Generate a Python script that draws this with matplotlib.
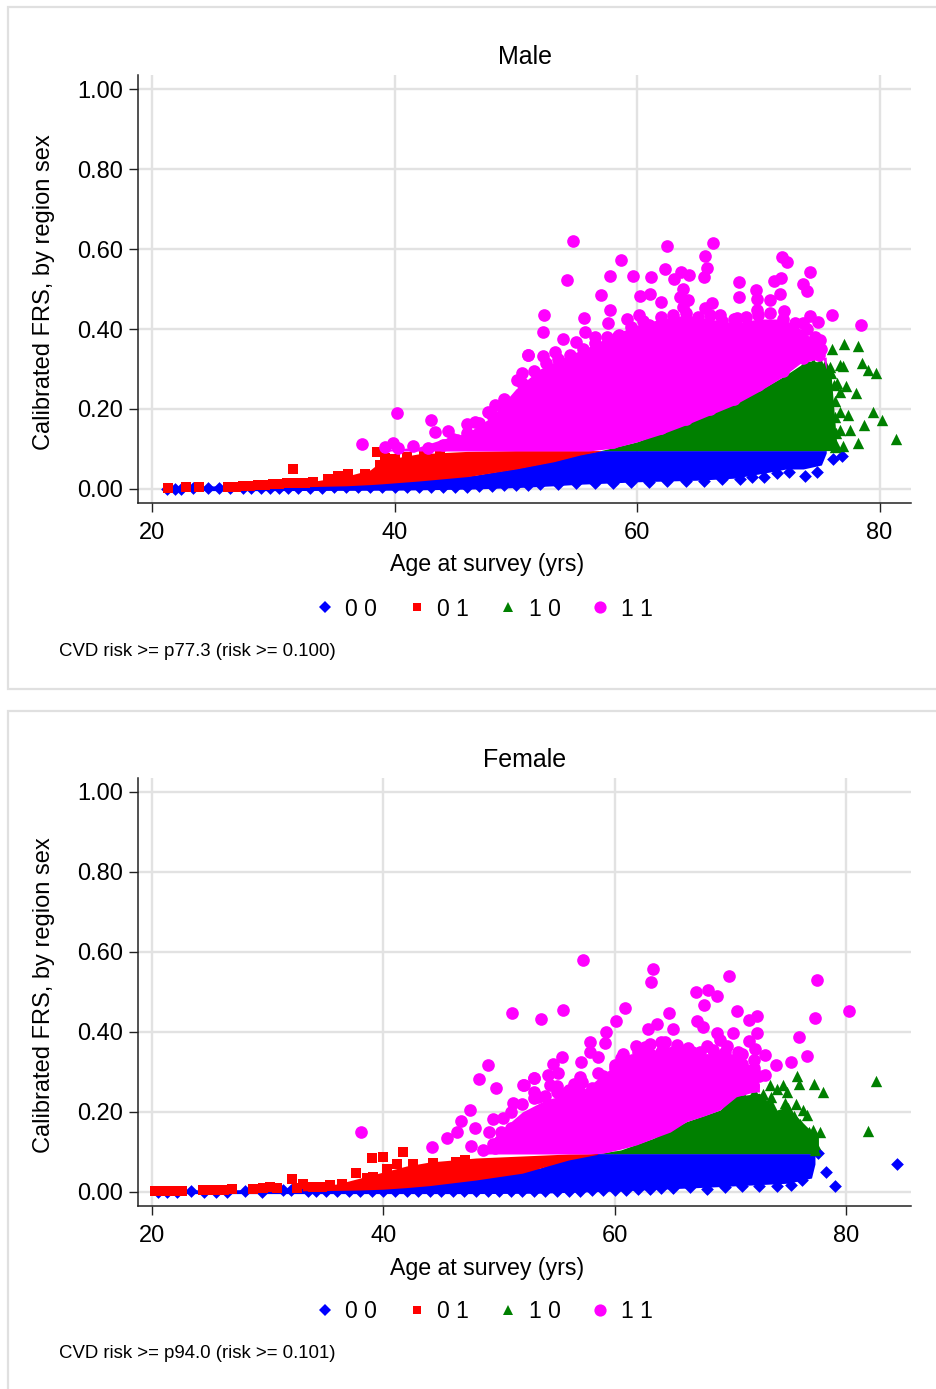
import matplotlib
matplotlib.use("Agg")
import matplotlib.pyplot as plt
from matplotlib.lines import Line2D
from matplotlib.patches import Rectangle

plt.rcParams['font.family'] = ['Liberation Sans', 'DejaVu Sans']

W, H = 936, 1389
C_B, C_R, C_G, C_M = '#0000ff', '#ff0000', '#008000', '#ff00ff'
GRID = '#e2e2e2'

# ---------- shared labels ----------
y_ticks = [0.0, 0.2, 0.4, 0.6, 0.8, 1.0]
y_tick_labels = ['0.00', '0.20', '0.40', '0.60', '0.80', '1.00']
x_ticks = [20, 40, 60, 80]
legend_labels = ['0 0', '0 1', '1 0', '1 1']

# ---------- MALE: envelopes of the dense mass ----------
m_blue_age = [21, 26, 30, 40, 46.5, 50.4, 53.1, 55.3, 57, 60, 65, 68, 70.5, 72.3, 73.7, 75.2, 75.6]
m_blue_up = [0.006, 0.008, 0.012, 0.020, 0.034, 0.054, 0.07, 0.087, 0.096, 0.096, 0.096, 0.096, 0.096, 0.096, 0.096, 0.096, 0.096]
m_blue_lo = [-0.004, -0.004, -0.004, -0.003, 0.0, 0.004, 0.008, 0.012, 0.014, 0.018, 0.022, 0.027, 0.04, 0.05, 0.05, 0.06, 0.09]

m_red_age = [25.8, 30, 33, 36, 38, 39, 42, 46, 50, 53.1, 55.3, 57]
m_red_up = [0.006, 0.012, 0.018, 0.032, 0.048, 0.072, 0.088, 0.094, 0.096, 0.096, 0.096, 0.096]
m_red_lo = [0.001, 0.004, 0.006, 0.008, 0.011, 0.013, 0.02, 0.031, 0.05, 0.068, 0.085, 0.095]

m_green_age = [57, 60, 64, 68, 70, 72, 74, 75, 76, 76.5]
m_green_up = [0.096, 0.118, 0.165, 0.215, 0.245, 0.28, 0.32, 0.318, 0.285, 0.10]
m_green_lo = [0.096, 0.096, 0.096, 0.096, 0.096, 0.096, 0.096, 0.096, 0.096, 0.096]

m_mag_age = [39, 42, 44, 46, 48, 50, 52, 54, 56, 58, 60, 62, 64, 66, 68, 70, 72, 73.5, 75, 75.6]
m_mag_up = [0.097, 0.105, 0.125, 0.14, 0.18, 0.25, 0.30, 0.33, 0.355, 0.385, 0.41, 0.425, 0.435, 0.425, 0.415, 0.425, 0.425, 0.40, 0.36, 0.30]
m_mag_lo = [0.095, 0.095, 0.095, 0.095, 0.095, 0.095, 0.095, 0.095, 0.095, 0.102, 0.118, 0.137, 0.16, 0.185, 0.21, 0.243, 0.28, 0.315, 0.325, 0.33]

# ---------- MALE: individual points ----------
m_b_x = [21.2, 21.9, 22.4, 23.4, 24.6, 25.5, 26.4, 27.5, 28.2, 29, 29.7, 30.5, 31.2, 32, 33, 34, 35, 36, 37, 38, 39, 40, 41, 42, 43, 44, 45, 46, 47, 48, 49, 50, 51, 52, 53.5, 55, 56.5, 58, 59.5, 61, 62.5, 64, 65.5, 67, 68.5, 69.5, 70.5, 71.5, 72.5, 73.84, 74.8, 76.12, 76.86]
m_b_y = [0.001, 0.001, 0.001, 0.002, 0.002, 0.002, 0.002, 0.002, 0.002, 0.003, 0.002, 0.002, 0.003, 0.003, 0.003, 0.003, 0.004, 0.004, 0.004, 0.004, 0.004, 0.004, 0.005, 0.005, 0.005, 0.005, 0.006, 0.006, 0.007, 0.008, 0.009, 0.010, 0.011, 0.012, 0.012, 0.014, 0.014, 0.016, 0.017, 0.018, 0.019, 0.020, 0.021, 0.024, 0.024, 0.030, 0.030, 0.040, 0.042, 0.032, 0.043, 0.074, 0.082]

m_r_x = [21.35, 22.78, 23.88, 26.3, 26.9, 27.5, 28.1, 28.7, 29.3, 30, 30.5, 31.1, 31.66, 31.9, 32.6, 33.3, 34.54, 35.37, 36.19, 37.57, 38.53, 38.8, 39.2, 40, 41, 42.4, 43.75]
m_r_y = [0.002, 0.004, 0.006, 0.006, 0.006, 0.007, 0.008, 0.009, 0.010, 0.013, 0.012, 0.016, 0.049, 0.014, 0.014, 0.0185, 0.024, 0.032, 0.037, 0.038, 0.092, 0.06, 0.077, 0.075, 0.08, 0.085, 0.09]

m_g_x = [76.09, 77.08, 78.18, 76.73, 77, 78.51, 79.06, 79.69, 77.19, 78.04, 76.73, 79.47, 80.16, 78.73, 77.55, 77.41, 81.39, 78.23, 77, 76.31, 76.73, 76.73, 76.45, 75.08, 75.9,
       76, 76.2, 76.3, 76.3, 76.4, 76.4, 75.5, 74.5, 73.8]
m_g_y = [0.349, 0.362, 0.357, 0.31, 0.307, 0.314, 0.297, 0.289, 0.258, 0.239, 0.243, 0.192, 0.172, 0.16, 0.148, 0.185, 0.125, 0.114, 0.107, 0.106, 0.148, 0.193, 0.264, 0.314, 0.306,
       0.29, 0.26, 0.22, 0.18, 0.14, 0.11, 0.31, 0.315, 0.31]

m_m_x = [54.69, 54.2, 52.36, 52.27, 58.67, 57.77, 57.0, 55.65, 55.73, 57.77, 59.69, 61.12, 60.24, 61.06, 62.47, 62.33, 63.07, 63.59, 64.28, 63.81, 63.54, 64.22, 63.81, 61.97, 66.26, 65.6, 65.73, 65.49, 66.2, 68.43, 68.43, 69.83, 69.86, 71.97, 72.38, 71.31, 71.83, 71.78, 70.95, 72.14, 73.7, 74.03, 74.25, 76.09, 78.45, 74.25, 74.94, 73.65, 75.08, 73.7, 74.53, 51.0, 52.27, 53.23, 53.87, 54.97, 56.53, 58.45, 57.63, 59.2, 60.16, 68.21, 69.86, 66.83, 65.6,
       40.2, 37.29, 43.04, 43.34, 44.44, 45.95, 46.64, 39.22, 39.9, 40.32, 41.5, 42.79, 43.97, 45.13, 46.5, 47.46, 47.74, 48.29, 49.11, 50.08, 50.49, 51.04]
m_m_y = [0.619, 0.522, 0.436, 0.393, 0.572, 0.532, 0.484, 0.428, 0.393, 0.448, 0.532, 0.529, 0.483, 0.487, 0.607, 0.549, 0.525, 0.543, 0.535, 0.50, 0.481, 0.473, 0.456, 0.467, 0.616, 0.583, 0.552, 0.531, 0.466, 0.517, 0.479, 0.497, 0.475, 0.581, 0.567, 0.52, 0.528, 0.487, 0.472, 0.446, 0.512, 0.496, 0.542, 0.436, 0.41, 0.433, 0.418, 0.414, 0.372, 0.327, 0.339, 0.334, 0.332, 0.342, 0.374, 0.368, 0.381, 0.383, 0.414, 0.424, 0.435, 0.427, 0.448, 0.435, 0.452,
       0.191, 0.112, 0.172, 0.142, 0.145, 0.163, 0.168, 0.106, 0.116, 0.103, 0.107, 0.102, 0.11, 0.122, 0.131, 0.147, 0.193, 0.21, 0.218, 0.272, 0.289, 0.335]

# points along the edge of the magenta mass
m_edge_x = [44.8, 46, 47, 48, 49, 50.5, 51.5, 52.5, 53.5, 54.5, 55.5, 56.5, 57.5, 58.5, 59.5, 60.5, 61, 62, 63, 64, 65, 66, 67, 68, 69, 70, 71, 72, 73, 74, 74.7, 75.2, 75, 73.3,
            58, 60, 62, 64, 66, 68, 70, 72]
m_edge_y = [0.125, 0.14, 0.165, 0.185, 0.225, 0.265, 0.295, 0.315, 0.325, 0.335, 0.35, 0.365, 0.38, 0.385, 0.405, 0.42, 0.41, 0.43, 0.435, 0.44, 0.43, 0.435, 0.42, 0.425, 0.43, 0.435, 0.44, 0.425, 0.415, 0.40, 0.38, 0.35, 0.335, 0.36,
            0.118, 0.134, 0.152, 0.176, 0.20, 0.226, 0.26, 0.296]

# ---------- FEMALE: envelopes of the dense mass ----------
f_blue_age = [20.5, 30, 33, 40, 47.8, 53.5, 54.7, 57, 58.4, 60.5, 68, 75, 77.0, 77.3]
f_blue_up = [0.005, 0.006, 0.010, 0.015, 0.036, 0.06, 0.072, 0.09, 0.096, 0.096, 0.096, 0.096, 0.096, 0.096]
f_blue_lo = [-0.004, -0.004, -0.004, -0.004, -0.004, -0.003, -0.002, 0.0, 0.001, 0.003, 0.012, 0.022, 0.035, 0.07]

f_red_age = [33, 36, 38, 40, 42, 44, 48, 52, 56, 58.5]
f_red_up = [0.012, 0.02, 0.035, 0.05, 0.065, 0.075, 0.085, 0.09, 0.095, 0.096]
f_red_lo = [0.003, 0.004, 0.005, 0.007, 0.011, 0.016, 0.03, 0.047, 0.08, 0.094]

f_green_age = [58.5, 60.5, 63.3, 66.2, 69.1, 70.2, 72.5, 74, 74.9, 76.6, 77.6]
f_green_up = [0.096, 0.105, 0.134, 0.176, 0.205, 0.238, 0.247, 0.205, 0.213, 0.163, 0.138]
f_green_lo = [0.096, 0.096, 0.096, 0.096, 0.096, 0.096, 0.096, 0.096, 0.096, 0.096, 0.096]

f_mag_age = [48.5, 50, 52, 54, 56, 57.6, 59, 60.5, 61.9, 63.5, 64.8, 66.2, 67.7, 69.1, 70.5, 72, 72.5]
f_mag_up = [0.10, 0.15, 0.20, 0.23, 0.245, 0.26, 0.295, 0.325, 0.345, 0.355, 0.36, 0.35, 0.345, 0.345, 0.34, 0.31, 0.27]
f_mag_lo = [0.095, 0.095, 0.095, 0.095, 0.095, 0.095, 0.097, 0.107, 0.118, 0.136, 0.15, 0.176, 0.19, 0.205, 0.238, 0.25, 0.25]

# ---------- FEMALE: individual points ----------
f_b_x = [20.5, 21.3, 22.2, 23.4, 24.5, 25.5, 26.5, 28, 29.5, 31.3, 32, 33.5, 34.2, 35, 36, 37, 38, 39, 40, 41, 42, 43, 44, 45, 46, 47, 48, 49, 50, 51, 52, 53, 54, 55, 56, 57, 58, 59, 60, 61, 62, 63, 64, 65, 66.5, 68, 69.5, 71, 72.5, 74, 75.2, 76.2, 77.6, 78.23, 79.03, 84.37]
f_b_y = [0.0, 0.0, 0.0, 0.002, 0.001, 0.0, 0.001, 0.002, 0.001, 0.004, 0.006, 0.002, 0.002, 0.003, 0.002, 0.003, 0.003, 0.003, 0.002, 0.003, 0.003, 0.003, 0.002, 0.003, 0.003, 0.003, 0.002, 0.003, 0.003, 0.003, 0.002, 0.003, 0.003, 0.003, 0.003, 0.003, 0.004, 0.004, 0.005, 0.006, 0.007, 0.008, 0.009, 0.010, 0.012, 0.008, 0.012, 0.014, 0.014, 0.016, 0.018, 0.03, 0.097, 0.051, 0.016, 0.07]

f_r_x = [20.26, 20.9, 21.5, 22.1, 22.56, 24.43, 25, 25.6, 26.2, 26.9, 28.7, 29.6, 30.2, 30.8, 32.13, 32.5, 33.08, 33.94, 34.7, 35.4, 36.4, 37.6, 38.55, 39.04, 39.1, 39.96, 40.28, 41.14, 41.72, 42.6, 44.3, 46.3, 47.05]
f_r_y = [0.003, 0.003, 0.003, 0.003, 0.003, 0.005, 0.005, 0.006, 0.006, 0.007, 0.007, 0.011, 0.012, 0.009, 0.033, 0.010, 0.019, 0.012, 0.013, 0.0175, 0.02, 0.047, 0.034, 0.084, 0.038, 0.088, 0.057, 0.07, 0.10, 0.07, 0.072, 0.076, 0.08]

f_g_x = [75.78, 75.95, 77.22, 78.03, 73.42, 74.57, 74, 74.86, 73.48, 74.71, 75.66, 76.3, 76.59, 77.74, 77.16, 82.61, 81.92,
       69.7, 70.5, 71, 72, 72.8, 73.5, 74.5, 75, 75.5, 76, 76.8, 77.3, 77.3, 76.5]
f_g_y = [0.291, 0.27, 0.27, 0.251, 0.2675, 0.2675, 0.257, 0.251, 0.238, 0.222, 0.22, 0.205, 0.1925, 0.151, 0.155, 0.277, 0.1525,
       0.225, 0.24, 0.245, 0.25, 0.245, 0.22, 0.20, 0.21, 0.19, 0.17, 0.15, 0.12, 0.105, 0.125]

f_m_x = [57.23, 63.3, 63.1, 69.9, 67.05, 68.03, 68.84, 67.74, 77.45, 80.22, 55.56, 53.6, 60.88, 60.08, 64.72, 70.54, 72.29, 71.57, 77.31, 59.24, 59.13, 57.83, 57.86, 58.58, 67.14, 67.66, 63.68, 62.9, 65.03, 70.25, 72.27, 71.57, 75.95, 62.61, 65.35, 64.34, 68.81, 69.1, 66.65, 67.37, 70.68, 72.12, 72.98, 76.59, 75.23, 73.94, 55.41, 54.69, 57.08, 55.12, 54.26, 53.05, 52.16, 57, 57.14, 58.58, 60.02, 61.32, 58, 54.4, 55.7, 53.4, 72.98, 70.97, 71.98,
       51.08, 38.06, 44.17, 45.47, 46.39, 46.7, 47.48, 47.91, 49.07, 48.26, 49.73, 52.09, 53.04, 51.17, 49.5, 50.36, 49.15, 47.54, 48.63, 49.64]
f_m_y = [0.58, 0.558, 0.526, 0.54, 0.501, 0.505, 0.491, 0.468, 0.53, 0.452, 0.456, 0.4325, 0.461, 0.427, 0.448, 0.452, 0.441, 0.429, 0.434, 0.40, 0.373, 0.375, 0.351, 0.337, 0.427, 0.412, 0.42, 0.408, 0.4075, 0.398, 0.397, 0.378, 0.388, 0.363, 0.3675, 0.376, 0.397, 0.38, 0.351, 0.351, 0.351, 0.357, 0.3425, 0.34, 0.326, 0.317, 0.338, 0.32, 0.325, 0.297, 0.2925, 0.284, 0.2675, 0.288, 0.276, 0.297, 0.3175, 0.313, 0.255, 0.2675, 0.247, 0.238, 0.2925, 0.257, 0.265,
       0.448, 0.151, 0.113, 0.134, 0.149, 0.1775, 0.205, 0.161, 0.318, 0.2817, 0.261, 0.268, 0.284, 0.223, 0.1825, 0.184, 0.149, 0.116, 0.105, 0.109]

# points along the edge of the magenta mass
f_edge_x = [49.5, 50, 50.2, 51, 51, 52, 53, 53, 54, 55, 55, 56, 56.5, 57, 58, 59, 60, 60.5, 61, 61.5, 62, 62, 63, 63, 64, 64.2, 65, 65.7, 66, 67, 68, 68.5, 69, 69.5, 70, 70.9, 71, 72, 72.5,
            60.7, 61.8, 64, 66.3, 68, 69.7, 71, 72]
f_edge_y = [0.12, 0.125, 0.15, 0.16, 0.20, 0.22, 0.235, 0.25, 0.24, 0.25, 0.265, 0.255, 0.27, 0.25, 0.26, 0.29, 0.31, 0.335, 0.32, 0.33, 0.33, 0.35, 0.345, 0.37, 0.35, 0.36, 0.35, 0.345, 0.34, 0.34, 0.33, 0.355, 0.34, 0.35, 0.33, 0.27, 0.32, 0.31, 0.29,
            0.345, 0.365, 0.375, 0.36, 0.365, 0.365, 0.345, 0.33]

# ---------- styling ----------
SZ = {'b': 42, 'r': 44, 'g': 67, 'm': 83}


def fx(px):
    return px / W


def fy(py):
    return 1 - py / H


fig = plt.figure(figsize=(W / 100, H / 100), dpi=100, facecolor='white')

# panel frames
for top, bottom in [(7, 689), (711, 1400)]:
    fig.add_artist(Rectangle((fx(8), fy(bottom)), fx(960 - 8), fy(top) - fy(bottom),
                             transform=fig.transFigure, facecolor='white',
                             edgecolor='#e0e0e0', linewidth=1.6, zorder=-5))


def panel(ax_top, ax_bottom, xlim, title, note, env, pts):
    ax = fig.add_axes([fx(138), fy(ax_bottom), fx(911 - 138), (ax_bottom - ax_top) / H])
    ax.patch.set_alpha(0)
    ax.set_xlim(*xlim)
    ax.set_ylim(-0.035, 1.035)
    ax.set_xticks(x_ticks)
    ax.set_yticks(y_ticks)
    ax.set_yticklabels(y_tick_labels)
    ax.grid(True, color=GRID, linewidth=1.7, zorder=0)
    ax.set_axisbelow(True)
    for s in ('top', 'right'):
        ax.spines[s].set_visible(False)
    for s in ('left', 'bottom'):
        ax.spines[s].set_linewidth(1.1)
        ax.spines[s].set_color('#222222')
        ax.spines[s].set_zorder(10)
    ax.tick_params(axis='both', length=6.5, width=1.0, color='#222222', labelsize=17)
    ax.tick_params(axis='x', pad=7)
    ax.tick_params(axis='y', pad=4.5)

    colors = [C_B, C_R, C_G, C_M]
    for i, (e, c) in enumerate(zip(env, colors)):
        ax.fill_between(e[0], e[2], e[1], color=c, linewidth=0, zorder=3 + i)
    for i, (p, c, mk, k) in enumerate(zip(pts, colors, ['D', 's', '^', 'o'], 'brgm')):
        ax.scatter(p[0], p[1], s=SZ[k], marker=mk, color=c, linewidths=0, zorder=3 + i)

    fig.text(fx(524.5), fy(ax_top - 18), title, fontsize=18, ha='center', va='center')
    fig.text(fx(487.5), fy(ax_bottom + 62), 'Age at survey (yrs)', fontsize=16.7, ha='center', va='center')
    fig.text(fx(44), fy((ax_top + ax_bottom) / 2 + 3), 'Calibrated FRS, by region sex', fontsize=17,
             rotation=90, ha='center', va='center')
    fig.text(fx(59), fy(ax_bottom + 148), note, fontsize=13.45, ha='left', va='center')

    handles = [Line2D([], [], linestyle='none', marker=mk, color=c, markeredgewidth=0, markersize=ms)
               for mk, c, ms in zip(['D', 's', '^', 'o'], colors, [6.2, 6.3, 7.6, 8.8])]
    fig.legend(handles, legend_labels, loc='center', ncol=4, frameon=False, fontsize=16.6,
               bbox_to_anchor=(fx(483), fy(ax_bottom + 106)), handlelength=1.0, handletextpad=0.4,
               columnspacing=1.2, borderpad=0, borderaxespad=0)
    return ax


panel(75, 503, (18.84, 82.59), 'Male', 'CVD risk >= p77.3 (risk >= 0.100)',
      [(m_blue_age, m_blue_up, m_blue_lo), (m_red_age, m_red_up, m_red_lo),
       (m_green_age, m_green_up, m_green_lo), (m_mag_age, m_mag_up, m_mag_lo)],
      [(m_b_x, m_b_y), (m_r_x, m_r_y), (m_g_x, m_g_y), (m_m_x + m_edge_x, m_m_y + m_edge_y)])

panel(778, 1206, (18.79, 85.6), 'Female', 'CVD risk >= p94.0 (risk >= 0.101)',
      [(f_blue_age, f_blue_up, f_blue_lo), (f_red_age, f_red_up, f_red_lo),
       (f_green_age, f_green_up, f_green_lo), (f_mag_age, f_mag_up, f_mag_lo)],
      [(f_b_x, f_b_y), (f_r_x, f_r_y), (f_g_x, f_g_y), (f_m_x + f_edge_x, f_m_y + f_edge_y)])

fig.savefig('out.png', dpi=100, facecolor='white')
